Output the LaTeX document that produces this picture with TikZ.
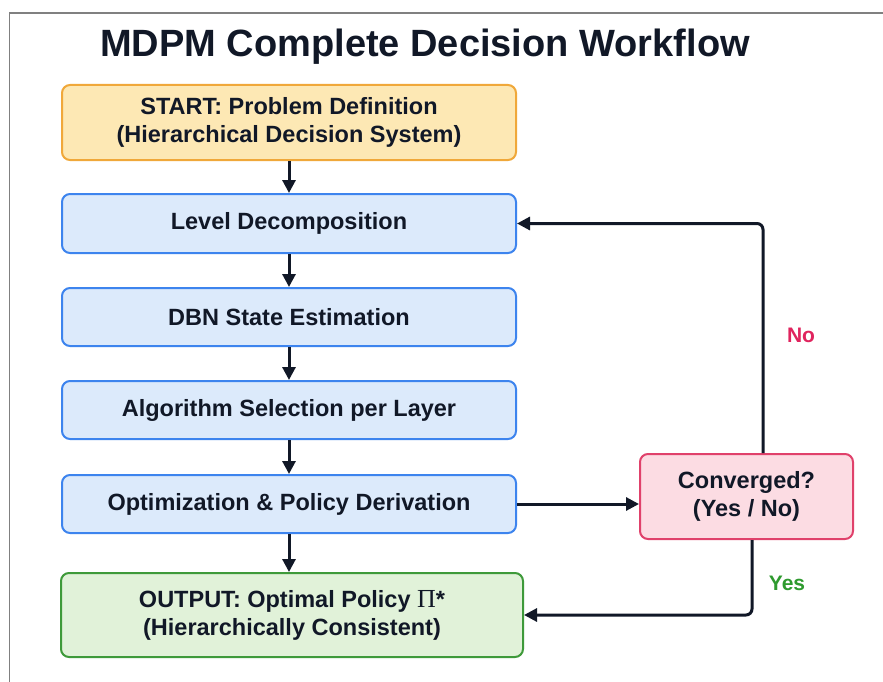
\documentclass[tikz,border=0pt]{standalone}
\usepackage{fontspec}
\setmainfont{Liberation Sans}
\newfontfamily\pifont{Liberation Serif}
\usetikzlibrary{arrows.meta,positioning,calc}
\definecolor{ink}{HTML}{111827}
\definecolor{startfill}{HTML}{FDE8B4}
\definecolor{startdraw}{HTML}{F0A83A}
\definecolor{bluefill}{HTML}{DCEAFB}
\definecolor{bluedraw}{HTML}{3D84EE}
\definecolor{pinkfill}{HTML}{FCDCE3}
\definecolor{pinkdraw}{HTML}{E0416B}
\definecolor{greenfill}{HTML}{E1F2D9}
\definecolor{greendraw}{HTML}{3E9A3A}
\definecolor{nocol}{HTML}{E0245E}
\definecolor{yescol}{HTML}{2E9A2E}
\definecolor{framecol}{HTML}{808080}
\tikzset{
  boxbase/.style={rectangle, rounded corners=8pt, line width=2pt, align=center,
    text=ink, font=\fontsize{23.5}{28}\selectfont\bfseries, inner sep=0pt},
  startbox/.style={boxbase, fill=startfill, draw=startdraw, minimum width=454pt, minimum height=75pt},
  bluebox/.style={boxbase, fill=bluefill, draw=bluedraw, minimum width=454pt, minimum height=58pt},
  pinkbox/.style={boxbase, fill=pinkfill, draw=pinkdraw, minimum width=213pt, minimum height=85pt},
  greenbox/.style={boxbase, fill=greenfill, draw=greendraw, minimum width=462pt, minimum height=84pt},
  flow/.style={draw=ink, line width=3pt, -{Triangle[length=13pt,width=13pt]}},
  branch/.style={font=\fontsize{21}{24}\selectfont\bfseries}
}
\begin{document}
\begin{tikzpicture}[x=1pt,y=-1pt]
\useasboundingbox (0,0) rectangle (883,682);
\fill[white] (0,0) rectangle (883,682);
\draw[framecol, line width=1.6pt] (9.5,682) -- (9.5,13) -- (883,13);

\node[text=ink, font=\fontsize{38}{44}\selectfont\bfseries] (title) at (425,47) {MDPM Complete Decision Workflow};

\node[startbox] (start) at (289,122.5) {START: Problem Definition\\(Hierarchical Decision System)};
\node[bluebox, minimum height=59pt] (level) at (289,223.5) {Level Decomposition};
\node[bluebox] (dbn) at (289,317) {DBN State Estimation};
\node[bluebox] (algo) at (289,410) {Algorithm Selection per Layer};
\node[bluebox] (opt) at (289,504) {Optimization \& Policy Derivation};
\node[greenbox] (out) at (292,615) {OUTPUT: Optimal Policy {\pifont\mdseries\fontsize{26}{28}\selectfont Π}*\\(Hierarchically Consistent)};
\node[pinkbox] (conv) at (746.5,496.5) {Converged?\\(Yes / No)};

\draw[flow] (start) -- (level);
\draw[flow] (level) -- (dbn);
\draw[flow] (dbn) -- (algo);
\draw[flow] (algo) -- (opt);
\draw[flow] (opt) -- (opt |- out.north);
\draw[flow] (opt.east) -- (opt.east -| conv.west);

\coordinate (nostart) at ([xshift=16.5pt]conv.north);
\draw[flow, rounded corners=6pt] (nostart) |- (level.east);
\coordinate (yesstart) at ([xshift=5.5pt]conv.south);
\draw[flow, rounded corners=6pt] (yesstart) |- (out.east);

\node[branch, text=nocol] (nolabel) at (801,335) {No};
\node[branch, text=yescol] (yeslabel) at (787,583) {Yes};
\end{tikzpicture}
\end{document}
